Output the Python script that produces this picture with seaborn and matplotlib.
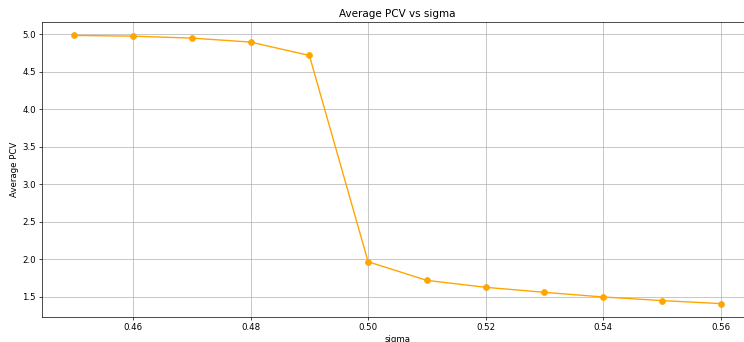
import matplotlib
matplotlib.use("Agg")
import matplotlib.pyplot as plt
import seaborn as sns
import pandas as pd

sigma = [0.45, 0.46, 0.47, 0.48, 0.49, 0.50, 0.51, 0.52, 0.53, 0.54, 0.55, 0.56]
avg_pcv = [4.983, 4.973, 4.947, 4.894, 4.716, 1.969, 1.721, 1.629, 1.562, 1.500, 1.452, 1.412]

df = pd.DataFrame({"sigma": sigma, "Average PCV": avg_pcv})

DPI = 62
fig = plt.figure(figsize=(744 / DPI, 342 / DPI), dpi=DPI)
ax = fig.add_axes([42 / 744, 25 / 342, (753 - 42) / 744, (317 - 22) / 342])

sns.lineplot(data=df, x="sigma", y="Average PCV", marker="o", color="orange",
             markeredgecolor="orange", markersize=7, linewidth=1.6, ax=ax)
ax.grid(True)
ax.set_title("Average PCV vs sigma")
ax.set_xlabel("sigma")
ax.set_ylabel("Average PCV")
ax.set_xticks([0.46, 0.48, 0.50, 0.52, 0.54, 0.56])
ax.set_yticks([1.5, 2.0, 2.5, 3.0, 3.5, 4.0, 4.5, 5.0])

fig.savefig("out.png", dpi=DPI)
